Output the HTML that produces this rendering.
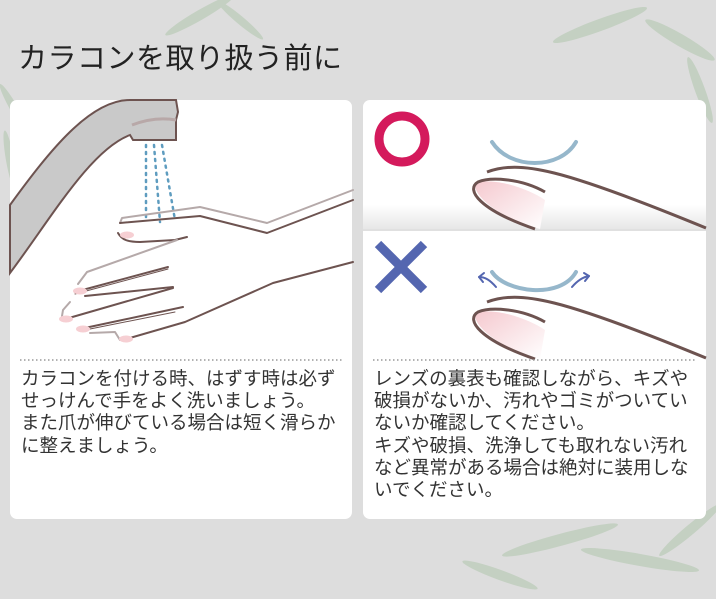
<!DOCTYPE html>
<html><head><meta charset="utf-8"><style>
html,body{margin:0;padding:0;}
body{width:716px;height:599px;background:#dddddd;position:relative;overflow:hidden;font-family:"Liberation Sans","Noto Sans CJK JP",sans-serif;}
.title{position:absolute;left:18px;top:35px;font-size:29px;color:#222;letter-spacing:0.5px;}
.card{position:absolute;top:100px;height:419px;background:#fff;border-radius:7px;}
.txt{position:absolute;font-size:18.5px;line-height:22.2px;color:#333;white-space:nowrap;}
</style></head><body>
<svg width="716" height="599" style="position:absolute;left:0;top:0">
 <g fill="#b9cbb6" opacity="0.7">
  <ellipse cx="200" cy="15" rx="40" ry="5" transform="rotate(-30 200 15)"/>
  <ellipse cx="240" cy="20" rx="30" ry="4" transform="rotate(40 240 20)"/>
  <ellipse cx="15" cy="110" rx="30" ry="4" transform="rotate(60 15 110)"/>
  <ellipse cx="10" cy="160" rx="30" ry="4" transform="rotate(80 10 160)"/>
  <ellipse cx="600" cy="25" rx="50" ry="6" transform="rotate(-20 600 25)"/>
  <ellipse cx="680" cy="40" rx="40" ry="6" transform="rotate(30 680 40)"/>
  <ellipse cx="700" cy="90" rx="35" ry="5" transform="rotate(70 700 90)"/>
  <ellipse cx="560" cy="540" rx="60" ry="6" transform="rotate(-15 560 540)"/>
  <ellipse cx="640" cy="560" rx="60" ry="6" transform="rotate(10 640 560)"/>
  <ellipse cx="690" cy="530" rx="40" ry="5" transform="rotate(-40 690 530)"/>
  <ellipse cx="500" cy="575" rx="40" ry="5" transform="rotate(20 500 575)"/>
 </g>
</svg>
<div class="title">カラコンを取り扱う前に</div>
<div class="card" style="left:10px;width:342px"></div>
<div class="card" style="left:363px;width:343px"></div>
<svg width="716" height="599" style="position:absolute;left:0;top:0">
 <defs>
  <linearGradient id="sh" x1="0" y1="0" x2="0" y2="1"><stop offset="0" stop-color="#fff"/><stop offset="1" stop-color="#e6e6e6"/></linearGradient>
  <linearGradient id="nl" x1="0" y1="0" x2="1" y2="1"><stop offset="0" stop-color="#f5c9cf"/><stop offset="1" stop-color="#fff"/></linearGradient>
 </defs>
 <path d="M10,205 C50,150 90,100 130,100 L176,100 L178,112 L176,120 L176,140 L133,140 L130,135 C90,150 50,220 10,273 Z" fill="#c9c9c9" stroke="#6d5350" stroke-width="2"/>
 <path d="M132,125 C150,118 165,118 176,120" fill="none" stroke="#b8a8a8" stroke-width="3"/>
 <g stroke="#5e9cbf" stroke-width="2.5" stroke-dasharray="2 5" stroke-linecap="round" fill="none">
  <line x1="146" y1="145" x2="146" y2="222"/><line x1="154" y1="145" x2="160" y2="222"/><line x1="162" y1="145" x2="175" y2="220"/>
 </g>
 <g fill="none" stroke-linecap="round" stroke-linejoin="round">
  <path d="M120,223 L122,218 L200,207 L267,223 L353,190" stroke="#b5a9a9" stroke-width="2"/>
  <path d="M120,223 L200,216 L267,233 L353,200" stroke="#6d5350" stroke-width="2"/>
  <path d="M118,233 C122,240 128,242 140,242 L175,240 L187,237" stroke="#6d5350" stroke-width="2"/>
  <path d="M177,240 L87,272 L78,284" stroke="#b5a9a9" stroke-width="2"/>
  <path d="M75,292 L168,267" stroke="#6d5350" stroke-width="2"/>
  <path d="M75,294 L168,269" stroke="#6d5350" stroke-width="1"/>
  <path d="M85,296 L173,287" stroke="#6d5350" stroke-width="2"/>
  <path d="M70,302 L63,310 L62,316" stroke="#b5a9a9" stroke-width="2"/>
  <path d="M62,320 L173,288" stroke="#6d5350" stroke-width="2"/>
  <path d="M80,329 L183,307" stroke="#6d5350" stroke-width="2"/>
  <path d="M80,331 L175,312" stroke="#6d5350" stroke-width="1"/>
  <path d="M120,340 L115,332 L90,333" stroke="#b5a9a9" stroke-width="2"/>
  <path d="M123,340 L185,322 L273,283 L353,262" stroke="#6d5350" stroke-width="2"/>
 </g>
 <g fill="#f6cfd3">
  <ellipse cx="127" cy="235" rx="7" ry="3.5"/><ellipse cx="80" cy="291" rx="7" ry="3.5"/>
  <ellipse cx="66" cy="319" rx="7" ry="3.5"/><ellipse cx="83" cy="329" rx="7" ry="3.5"/><ellipse cx="126" cy="339" rx="7" ry="3.5"/>
 </g>
 <line x1="20" y1="360" x2="342" y2="360" stroke="#999" stroke-width="1.5" stroke-dasharray="1.5 2.5"/>
 <rect x="363" y="205" width="343" height="25" fill="url(#sh)"/>
 <rect x="363" y="229" width="343" height="2" fill="#e0e0e0"/>
 <circle cx="402" cy="139" r="23" fill="none" stroke="#d41a5c" stroke-width="9"/>
 <g stroke="#5466b0" stroke-width="9"><line x1="378" y1="244" x2="424" y2="290"/><line x1="424" y1="244" x2="378" y2="290"/></g>
 <g id="fing">
  <path d="M475,182 C472,198 505,220 540,229 L545,200 C530,190 500,178 475,182 Z" fill="url(#nl)"/>
  <path d="M487,172 C520,160 560,168 706,228" fill="none" stroke="#6d5350" stroke-width="3"/>
  <path d="M545,192 C520,178 490,177 478,182 C465,190 480,210 535,229" fill="none" stroke="#6d5350" stroke-width="3"/>
 </g>
 <path d="M492,142 C510,170 560,170 576,142" fill="none" stroke="#96b7cb" stroke-width="4" stroke-linecap="round"/>
 <use href="#fing" transform="translate(0,130)"/>
 <path d="M492,272 C505,292 560,300 576,272" fill="none" stroke="#96b7cb" stroke-width="4" stroke-linecap="round"/>
 <g fill="none" stroke="#5466b0" stroke-width="2" stroke-linecap="round">
  <path d="M496,287 C490,280 485,277 479,277"/><path d="M479,277 L484,273 M479,277 L483,282"/>
  <path d="M572,287 C578,280 583,277 589,276"/><path d="M589,276 L584,273 M589,276 L585,281"/>
 </g>
 <line x1="373" y1="360" x2="696" y2="360" stroke="#999" stroke-width="1.5" stroke-dasharray="1.5 2.5"/>
</svg>
<div class="txt" style="left:21px;top:368px">カラコンを付ける時、はずす時は必ず<br>せっけんで手をよく洗いましょう。<br>また爪が伸びている場合は短く滑らか<br>に整えましょう。</div>
<div class="txt" style="left:374px;top:368px">レンズの裏表も確認しながら、キズや<br>破損がないか、汚れやゴミがついてい<br>ないか確認してください。<br>キズや破損、洗浄しても取れない汚れ<br>など異常がある場合は絶対に装用しな<br>いでください。</div>
</body></html>
